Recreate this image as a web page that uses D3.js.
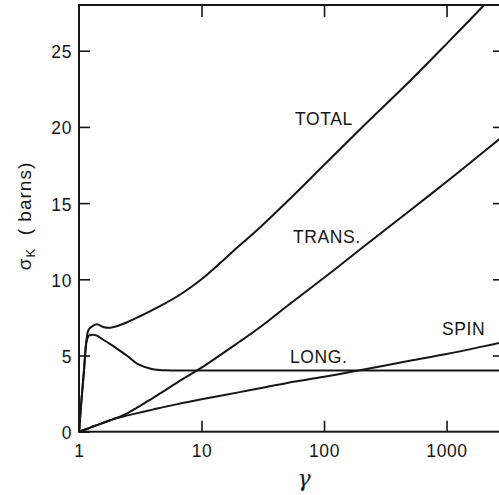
<!DOCTYPE html>
<html>
<head>
<meta charset="utf-8">
<script src="https://cdn.jsdelivr.net/npm/d3@7"></script>
<style>
  html, body { margin: 0; padding: 0; background: #fff; }
  svg { display: block; font-family: "Liberation Sans", Arial, sans-serif; }
</style>
</head>
<body>
<svg id="chart" width="499" height="495"></svg>
<script>
// gamma values (x) shared by every curve
const gammaValues = [1, 1.05, 1.1, 1.15, 1.2, 1.3, 1.4, 1.6, 1.8, 2, 2.5, 3, 4, 5, 7, 10, 20, 30, 50, 100, 200, 500, 1000, 2000, 3000];

// cross sections in barns
const totalValues = [0, 2.2, 4.15, 6.0, 6.7, 6.95, 7.05, 6.85, 6.82, 6.9, 7.2, 7.5, 8.0, 8.4, 9.1, 10.0, 12.15, 13.4, 15.1, 17.5, 19.9, 23.0, 25.45, 27.95, 29.5];
const transValues = [0, 0.06, 0.12, 0.18, 0.23, 0.34, 0.43, 0.6, 0.75, 0.88, 1.22, 1.6, 2.2, 2.7, 3.45, 4.2, 5.85, 6.85, 8.25, 10.1, 12.0, 14.5, 16.4, 18.35, 19.5];
const longValues = [0, 2.15, 4.05, 5.85, 6.3, 6.37, 6.3, 6.0, 5.75, 5.5, 4.95, 4.45, 4.1, 4.03, 4.02, 4.02, 4.02, 4.02, 4.02, 4.02, 4.02, 4.02, 4.02, 4.02, 4.02];
const spinValues = [0, 0.06, 0.12, 0.18, 0.23, 0.34, 0.43, 0.6, 0.75, 0.88, 1.07, 1.22, 1.45, 1.63, 1.88, 2.13, 2.58, 2.85, 3.2, 3.6, 4.05, 4.65, 5.1, 5.6, 5.9];

const xTicks = [1, 10, 100, 1000];
const yTicks = [0, 5, 10, 15, 20, 25];

const svg = d3.select('#chart');

const plotLeft = 79, plotRight = 505, plotTop = 5, plotBottom = 431.7;

const x = d3.scaleLog().domain([1, 3000]).range([plotLeft, plotRight]);
const y = d3.scaleLinear().domain([0, 28]).range([plotBottom, plotTop]);

const ink = '#161616';

// clip the curves to the frame
svg.append('defs').append('clipPath')
    .attr('id', 'plotClip')
    .append('rect')
    .attr('x', plotLeft)
    .attr('y', plotTop)
    .attr('width', plotRight - plotLeft)
    .attr('height', plotBottom - plotTop);

// axes with inward ticks
svg.append('g')
    .attr('transform', `translate(0,${plotBottom})`)
    .call(d3.axisBottom(x)
        .tickValues(xTicks)
        .tickFormat(d3.format('d'))
        .tickSizeInner(-11)
        .tickSizeOuter(0)
        .tickPadding(13));

const yAxis = svg.append('g')
    .attr('transform', `translate(${plotLeft},0)`)
    .call(d3.axisLeft(y)
        .tickValues(yTicks)
        .tickSizeInner(-11)
        .tickSizeOuter(0)
        .tickPadding(7));

svg.append('g')
    .attr('transform', `translate(0,${plotTop})`)
    .call(d3.axisTop(x)
        .tickValues(xTicks.slice(1))
        .tickSizeInner(-12)
        .tickSizeOuter(0)
        .tickFormat(''));

svg.append('g')
    .attr('transform', `translate(${plotRight},0)`)
    .call(d3.axisRight(y)
        .tickValues(yTicks.slice(1))
        .tickSizeInner(-12)
        .tickSizeOuter(0)
        .tickFormat(''));

svg.selectAll('.domain').remove();
svg.selectAll('.tick line')
    .attr('stroke', ink)
    .attr('stroke-width', 1.6);
svg.selectAll('.tick text')
    .attr('fill', ink)
    .attr('font-size', '17.5px')
    .attr('font-family', '"Liberation Sans", Arial, sans-serif')
    .style('letter-spacing', '0.6px');
yAxis.selectAll('.tick text').attr('dy', '0.4em');

// frame
svg.append('rect')
    .attr('x', plotLeft)
    .attr('y', plotTop)
    .attr('width', plotRight - plotLeft)
    .attr('height', plotBottom - plotTop)
    .attr('fill', 'none')
    .attr('stroke', ink)
    .attr('stroke-width', 2);

// curves
const series = [totalValues, transValues, longValues, spinValues];

const line = d3.line()
    .x(d => x(d[0]))
    .y(d => y(d[1]))
    .curve(d3.curveCatmullRom.alpha(0.5));

svg.append('g')
    .attr('clip-path', 'url(#plotClip)')
    .selectAll('path')
    .data(series)
    .enter()
    .append('path')
    .attr('d', vals => line(gammaValues.map((g, i) => [g, vals[i]])))
    .attr('fill', 'none')
    .attr('stroke', ink)
    .attr('stroke-width', 2)
    .attr('stroke-linejoin', 'round');

// curve labels
const labels = svg.append('g')
    .attr('font-size', '17.5px')
    .attr('fill', ink)
    .style('letter-spacing', '0.6px');

labels.append('text').attr('x', 295).attr('y', 125).text('TOTAL');
labels.append('text').attr('x', 293).attr('y', 243).text('TRANS.');
labels.append('text').attr('x', 290).attr('y', 363).text('LONG.');
labels.append('text').attr('x', 442).attr('y', 335).text('SPIN');

// axis titles
const yTitle = svg.append('text')
    .attr('transform', 'translate(31,216) rotate(-90)')
    .attr('text-anchor', 'middle')
    .attr('font-size', '19px')
    .attr('fill', ink)
    .style('letter-spacing', '1px');
yTitle.append('tspan').text('σ');
yTitle.append('tspan').attr('font-size', '13px').attr('dy', 4).text('K');
yTitle.append('tspan').attr('dy', -4).text('\u00a0\u00a0( barns)');

svg.append('text')
    .attr('x', 304)
    .attr('y', 486)
    .attr('text-anchor', 'middle')
    .attr('font-size', '22px')
    .attr('font-style', 'italic')
    .attr('font-family', '"DejaVu Serif", serif')
    .attr('fill', ink)
    .text('γ');
</script>
</body>
</html>
